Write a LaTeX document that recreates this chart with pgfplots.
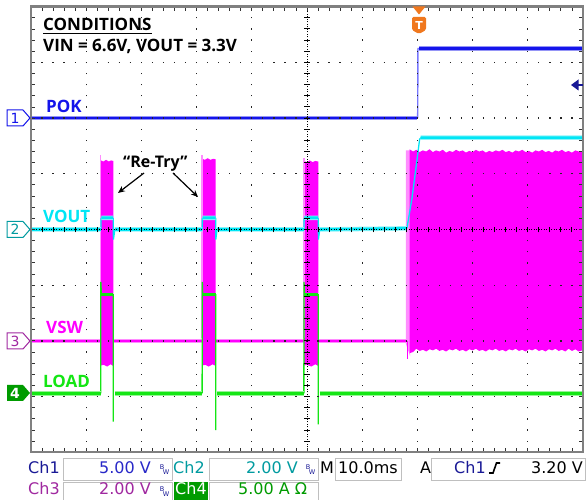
\documentclass[border=0pt]{standalone}
\usepackage{pgfplots}
\pgfplotsset{compat=1.18}
\usepackage{fontspec}
\setmainfont{Open Sans}
\newfontfamily\scopefont{DejaVu Sans}
\usetikzlibrary{arrows.meta}
\definecolor{pokblue}{RGB}{20,20,235}
\definecolor{pokedge}{RGB}{120,120,255}
\definecolor{vcyan}{RGB}{0,230,245}
\definecolor{vmag}{RGB}{255,0,255}
\definecolor{lightmag}{RGB}{255,140,255}
\definecolor{lgreen}{RGB}{20,230,20}
\definecolor{ch1dark}{RGB}{25,25,150}
\definecolor{ch1val}{RGB}{40,40,200}
\definecolor{ch2teal}{RGB}{0,155,160}
\definecolor{ch3purp}{RGB}{160,40,160}
\definecolor{ch4green}{RGB}{0,155,0}
\definecolor{trigorange}{RGB}{240,120,30}
\begin{document}
\begin{tikzpicture}[x=1pt,y=1pt]
\path[use as bounding box, fill=white] (0,0) rectangle (587,500);
\begin{axis}[at={(31pt,47.7pt)}, anchor=south west, scale only axis,
  width=552pt, height=445.6pt, xmin=0, xmax=10, ymin=-4, ymax=4,
  hide axis, clip=true, unbounded coords=jump]
% ---- VSW (Ch3) ----
\addplot[fill=vmag, draw=none] coordinates {(1.268,-2.44) (1.268,1.24) (1.31,1.22) (1.36,1.25) (1.41,1.22) (1.45,1.24) (1.491,1.23) (1.491,-2.45) (1.44,-2.42) (1.38,-2.46) (1.32,-2.43)} -- cycle;
\addplot[fill=lightmag, draw=none] coordinates {(1.245,-1.95) (1.245,1.34) (1.272,1.34) (1.272,-1.95)} -- cycle;
\addplot[fill=vmag, draw=none] coordinates {(3.103,-2.44) (3.103,1.27) (3.15,1.25) (3.20,1.28) (3.25,1.25) (3.30,1.27) (3.346,1.26) (3.346,-2.45) (3.29,-2.42) (3.22,-2.46) (3.16,-2.43)} -- cycle;
\addplot[fill=lightmag, draw=none] coordinates {(3.085,-1.95) (3.085,1.33) (3.11,1.33) (3.11,-1.95)} -- cycle;
\addplot[fill=vmag, draw=none] coordinates {(4.946,-2.44) (4.946,1.23) (5.00,1.21) (5.05,1.24) (5.10,1.21) (5.15,1.23) (5.205,1.22) (5.205,-2.45) (5.15,-2.42) (5.08,-2.46) (5.00,-2.43)} -- cycle;
\addplot[fill=lightmag, draw=none] coordinates {(4.93,-1.95) (4.93,1.28) (4.955,1.28) (4.955,-1.95)} -- cycle;
\addplot[fill=lightmag, draw=none] coordinates {(6.79,-2.05) (6.79,1.42) (6.87,1.42) (6.87,-2.28)} -- cycle;
\addplot[fill=vmag, draw=none] coordinates {(6.86,1.44)(6.92,1.40)(6.98,1.43)(7.04,1.39)(7.10,1.42)(7.16,1.40)(7.22,1.44)(7.28,1.39)(7.34,1.42)(7.40,1.40)(7.46,1.43)(7.52,1.38)(7.58,1.41)(7.64,1.39)(7.70,1.43)(7.76,1.40)(7.82,1.42)(7.88,1.38)(7.94,1.41)(8.00,1.39)(8.06,1.43)(8.12,1.40)(8.18,1.42)(8.24,1.38)(8.30,1.41)(8.36,1.39)(8.42,1.42)(8.48,1.40)(8.54,1.43)(8.60,1.39)(8.66,1.41)(8.72,1.38)(8.78,1.42)(8.84,1.40)(8.90,1.43)(8.96,1.39)(9.02,1.41)(9.08,1.38)(9.14,1.42)(9.20,1.40)(9.26,1.43)(9.32,1.39)(9.38,1.41)(9.44,1.38)(9.50,1.42)(9.56,1.40)(9.62,1.43)(9.68,1.39)(9.74,1.41)(9.80,1.38)(9.86,1.42)(9.92,1.40)(10.02,1.41)
 (10.02,-2.16)(9.92,-2.19)(9.86,-2.15)(9.80,-2.18)(9.74,-2.14)(9.68,-2.19)(9.62,-2.16)(9.56,-2.18)(9.50,-2.14)(9.44,-2.17)(9.38,-2.15)(9.32,-2.19)(9.26,-2.16)(9.20,-2.18)(9.14,-2.14)(9.08,-2.17)(9.02,-2.15)(8.96,-2.19)(8.90,-2.16)(8.84,-2.18)(8.78,-2.14)(8.72,-2.17)(8.66,-2.15)(8.60,-2.19)(8.54,-2.16)(8.48,-2.18)(8.42,-2.14)(8.36,-2.17)(8.30,-2.15)(8.24,-2.19)(8.18,-2.16)(8.12,-2.18)(8.06,-2.14)(8.00,-2.17)(7.94,-2.15)(7.88,-2.19)(7.82,-2.16)(7.76,-2.18)(7.70,-2.14)(7.64,-2.17)(7.58,-2.15)(7.52,-2.19)(7.46,-2.16)(7.40,-2.18)(7.34,-2.14)(7.28,-2.17)(7.22,-2.15)(7.16,-2.19)(7.10,-2.16)(7.04,-2.18)(6.98,-2.14)(6.92,-2.20)(6.86,-2.22)} -- cycle;
\addplot[vmag, line width=1pt] coordinates {(6.82,-2.0) (6.82,-2.32)};
\addplot[vmag!45, line width=4.5pt] coordinates {(-0.05,-2.0)(1.25,-2.0)(1.3,nan)(1.49,-2.0)(3.10,-2.0)(3.2,nan)(3.346,-2.0)(4.94,-2.0)(5.0,nan)(5.205,-2.0)(6.80,-2.0)};
\addplot[vmag, line width=2.6pt] coordinates {(-0.05,-2.0)(1.25,-2.0)(1.3,nan)(1.49,-2.0)(3.10,-2.0)(3.2,nan)(3.346,-2.0)(4.94,-2.0)(5.0,nan)(5.205,-2.0)(6.80,-2.0)};
% ---- VOUT (Ch2) ----
\addplot[vcyan, line width=1.3pt] coordinates {(1.268,0)(1.27,0.21)(1.3,nan)(1.491,0.21)(1.493,-0.18)(1.52,0)(2,nan)(3.103,0)(3.105,0.21)(3.2,nan)(3.346,0.21)(3.348,-0.18)(3.37,0)(4,nan)(4.946,0)(4.948,0.21)(5.0,nan)(5.205,0.21)(5.207,-0.18)(5.23,0)(6,nan)(6.81,0.02)(6.90,0.55)(6.98,1.15)(7.04,1.62)(7.07,1.65)};
\addplot[vcyan!45, line width=4.5pt] coordinates {(-0.05,0)(1.268,0)(1.269,nan)(1.275,0.21)(1.49,0.21)(1.5,nan)(1.52,0)(3.103,0)(3.104,nan)(3.11,0.21)(3.345,0.21)(3.346,nan)(3.37,0)(4.946,0)(4.947,nan)(4.952,0.21)(5.203,0.21)(5.204,nan)(5.23,0)(6.81,0.02)(6.9,nan)(7.06,1.65)(10.05,1.65)};
\addplot[vcyan, line width=2.6pt] coordinates {(-0.05,0)(1.268,0)(1.269,nan)(1.275,0.21)(1.49,0.21)(1.5,nan)(1.52,0)(3.103,0)(3.104,nan)(3.11,0.21)(3.345,0.21)(3.346,nan)(3.37,0)(4.946,0)(4.947,nan)(4.952,0.21)(5.203,0.21)(5.204,nan)(5.23,0)(6.81,0.02)(6.9,nan)(7.06,1.65)(10.05,1.65)};
% ---- LOAD (Ch4) ----
\addplot[lgreen, line width=1.3pt] coordinates {(1.262,-2.94)(1.265,-0.94)(1.275,-1.16)(1.3,nan)(1.491,-1.16)(1.491,-3.45)(2,nan)(3.100,-2.94)(3.103,-0.94)(3.11,-1.16)(3.2,nan)(3.346,-1.16)(3.346,-3.6)(4,nan)(4.943,-2.94)(4.946,-0.94)(4.955,-1.16)(5.0,nan)(5.205,-1.16)(5.205,-3.5)};
\addplot[lgreen!45, line width=5pt] coordinates {(-0.05,-2.94)(1.26,-2.94)(1.3,nan)(1.52,-2.94)(3.10,-2.94)(3.2,nan)(3.37,-2.94)(4.94,-2.94)(5.0,nan)(5.23,-2.94)(10.05,-2.94)};
\addplot[lgreen, line width=2.8pt] coordinates {(-0.05,-2.94)(1.26,-2.94)(1.3,nan)(1.52,-2.94)(3.10,-2.94)(3.2,nan)(3.37,-2.94)(4.94,-2.94)(5.0,nan)(5.23,-2.94)(10.05,-2.94)};
\addplot[lgreen, line width=2.8pt] coordinates {(1.27,-1.16)(1.49,-1.16)(1.5,nan)(3.105,-1.16)(3.345,-1.16)(3.4,nan)(4.95,-1.16)(5.204,-1.16)};
% ---- POK (Ch1) ----
\addplot[pokedge, line width=1.4pt] coordinates {(7.005,2.0)(7.01,3.25)(7.04,3.25)};
\addplot[pokblue!45, line width=4.2pt] coordinates {(-0.05,2.0)(7.0,2.0)(7.01,nan)(7.03,3.25)(10.05,3.25)};
\addplot[pokblue, line width=2.5pt] coordinates {(-0.05,2.0)(7.0,2.0)(7.01,nan)(7.03,3.25)(10.05,3.25)};
\end{axis}
% ---- graticule ----
\foreach \i in {1,2,3,4,6,7,8,9}
  \draw[black!85, line width=1.3pt, dash pattern=on 1.3pt off 9.84pt, dash phase=0.65pt] ({31+55.2*\i},47.7) -- ({31+55.2*\i},493.3);
\foreach \j in {1,2,3,5,6,7}
  \draw[black!85, line width=1.3pt, dash pattern=on 1.3pt off 9.74pt, dash phase=0.65pt] (31,{47.7+55.7*\j}) -- (583,{47.7+55.7*\j});
\draw[black, line width=0.9pt, dash pattern=on 1pt off 1.5pt] (31,270.5) -- (583,270.5);
\draw[black, line width=0.9pt, dash pattern=on 1pt off 1.5pt] (307,47.7) -- (307,493.3);
\foreach \k in {1,...,49} \draw[black, line width=1pt] ({31+11.04*\k},267.6) -- ++(0,5.8);
\foreach \k in {1,...,39} \draw[black, line width=1pt] (304.1,{47.7+11.14*\k}) -- ++(5.8,0);
\foreach \k in {1,...,49} {\draw[black!80, line width=0.9pt] ({31+11.04*\k},493.3) -- ++(0,-4);
  \draw[black!80, line width=0.9pt] ({31+11.04*\k},47.7) -- ++(0,4);}
\foreach \k in {1,...,39} {\draw[black!80, line width=0.9pt] (31,{47.7+11.14*\k}) -- ++(4,0);
  \draw[black!80, line width=0.9pt] (583,{47.7+11.14*\k}) -- ++(-4,0);}
\draw[gray, line width=2.4pt] (31,47.7) rectangle (583,493.3);
% ---- trigger markers ----
\fill[trigorange] (412.5,493.5) -- (425.5,493.5) -- (419,485.5) -- cycle;
\fill[trigorange, rounded corners=1.5pt] (412,483) -- (426,483) -- (426,470) -- (419,466) -- (412,470) -- cycle;
\node[text=white, font=\scopefont\bfseries\fontsize{11}{12}\selectfont, inner sep=0] at (419,475) {T};
\fill[ch1dark] (571,415) -- (578.5,420.5) -- (578.5,409.5) -- cycle;
\draw[ch1dark, line width=1.8pt] (577,415) -- (583,415);
% ---- channel markers ----
\draw[pokblue, line width=1pt, fill=white] (7,390) -- (23,390) -- (30,382) -- (23,374) -- (7,374) -- cycle;
\node[text=pokblue, font=\scopefont\fontsize{14}{15}\selectfont, inner sep=0] at (15,382) {1};
\draw[ch2teal, line width=1pt, fill=white] (7,278.5) -- (23,278.5) -- (30,270.5) -- (23,262.5) -- (7,262.5) -- cycle;
\node[text=ch2teal, font=\scopefont\fontsize{14}{15}\selectfont, inner sep=0] at (15,270.5) {2};
\draw[ch3purp, line width=1pt, fill=white] (7,167) -- (23,167) -- (30,159) -- (23,151) -- (7,151) -- cycle;
\node[text=ch3purp, font=\scopefont\fontsize{14}{15}\selectfont, inner sep=0] at (15,159) {3};
\fill[ch4green] (7,115) -- (23,115) -- (30,107) -- (23,99) -- (7,99) -- cycle;
\node[text=white, font=\scopefont\bfseries\fontsize{14}{15}\selectfont, inner sep=0] at (15,107) {4};
% ---- labels ----
\node[anchor=base west, inner sep=0, font=\bfseries\fontsize{17}{20}\selectfont] at (43,469.5) {CONDITIONS};
\draw[black, line width=1.5pt] (43,466.5) -- (152,466.5);
\node[anchor=base west, inner sep=0, font=\bfseries\fontsize{17}{20}\selectfont] at (43,448.3) {VIN = 6.6V, VOUT = 3.3V};
\node[anchor=base west, inner sep=0, text=pokblue, font=\bfseries\fontsize{17}{20}\selectfont] at (46,387) {POK};
\node[anchor=base west, inner sep=0, text=vcyan, font=\bfseries\fontsize{17}{20}\selectfont] at (43,277) {VOUT};
\node[anchor=base west, inner sep=0, text=vmag, font=\bfseries\fontsize{17}{20}\selectfont] at (46,166) {VSW};
\node[anchor=base west, inner sep=0, text=lgreen, font=\bfseries\fontsize{17}{20}\selectfont] at (43,112) {LOAD};
\node[anchor=base west, inner sep=0, font=\bfseries\fontsize{16}{20}\selectfont] at (123,332) {“Re-Try”};
\draw[black, line width=1.2pt, -{Stealth[length=7pt,width=6pt]}] (144,327) -- (118,307);
\draw[black, line width=1.2pt, -{Stealth[length=7pt,width=6pt]}] (173,327) -- (198,303);
% ---- status bar ----
\tikzset{sb/.style={draw=gray!50, line width=0.9pt, fill=white}}
\draw[sb] (63,20) rectangle (172,42);
\draw[sb] (209,20) rectangle (318,42);
\draw[sb] (335,20) rectangle (401,42);
\draw[sb] (431,20) rectangle (585,42);
\draw[sb] (63,-3) rectangle (172,18);
\draw[sb] (209,-3) rectangle (318,18);
\fill[ch4green] (174,-3) rectangle (208,18);
\tikzset{st/.style={inner sep=0, font=\scopefont\fontsize{16}{18}\selectfont}}
\node[st, anchor=base west, text=ch1dark] at (28,26) {Ch1};
\node[st, anchor=base east, text=ch1val] at (151,26) {5.00 V};
\node[st, anchor=base west, text=ch2teal] at (173,26) {Ch2};
\node[st, anchor=base east, text=ch2teal] at (298,26) {2.00 V};
\node[st, anchor=base west] at (320,26) {M};
\node[st, anchor=base west] at (338,26) {10.0ms};
\node[st, anchor=base west] at (420,26) {A};
\node[st, anchor=base west, text=ch1dark] at (454,26) {Ch1};
\draw[black, line width=1.6pt] (489,27) -- (493,27) -- (496.5,37) -- (500,37);
\node[st, anchor=base east] at (583,26) {3.20 V};
\node[st, anchor=base west, text=ch3purp] at (28,5) {Ch3};
\node[st, anchor=base east, text=ch3purp] at (151,5) {2.00 V};
\node[st, anchor=base west, text=white] at (175,5) {Ch4};
\node[st, anchor=base west, text=ch4green] at (238,5) {5.00 A Ω};
\tikzset{bw/.style={inner sep=0, font=\scopefont\fontsize{6.5}{7}\selectfont, text=ch1dark}}
\foreach \bx/\by in {162/33, 308/33, 162/11} {
  \node[bw] at (\bx,\by) {B};
  \node[bw] at (\bx+4,\by-5) {W};
}
\end{tikzpicture}
\end{document}
